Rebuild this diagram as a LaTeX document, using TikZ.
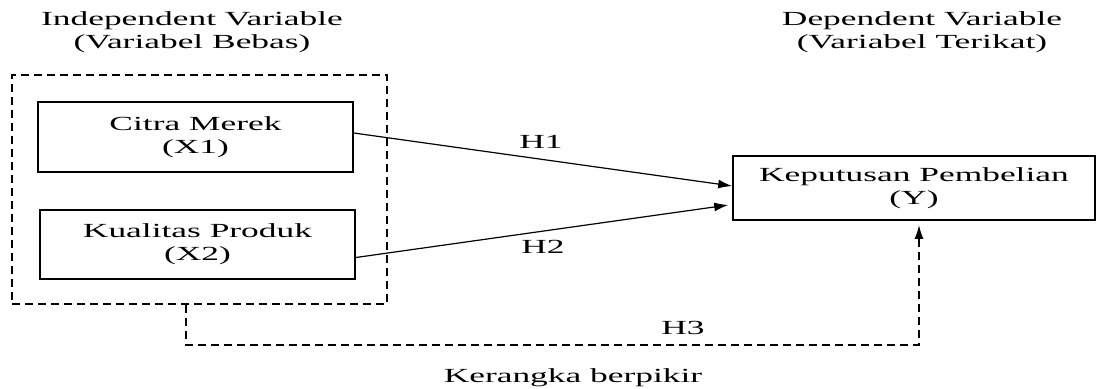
\documentclass[tikz,border=0pt]{standalone}
\usepackage{fontspec}
\setmainfont{Liberation Serif}[FakeStretch=1.77]
\usetikzlibrary{arrows.meta}
\tikzset{>={Latex[length=7pt,width=4.5pt]}}
\tikzset{
  var/.style={draw, line width=0.8pt, inner sep=0pt, align=center},
  grpbox/.style={draw, dashed, line width=0.9pt, dash pattern=on 4pt off 2.5pt, inner sep=0pt},
  hline/.style={->, line width=0.6pt},
  hdash/.style={->, line width=0.9pt, dash pattern=on 4pt off 2.5pt}
}

\begin{document}
\begin{tikzpicture}[x=0.5pt, y=-0.5pt, font=\fontsize{10}{11.4}\selectfont]
    \useasboundingbox (0,0) rectangle (1098,388);

    \node at (192, 32) (ind) [align=center] {Independent Variable\\(Variabel Bebas)};
    \node at (922, 32) (dep) [align=center] {Dependent Variable\\(Variabel Terikat)};

    \node at (199.5, 189.5) (grp) [grpbox, minimum width=187.5pt, minimum height=114.5pt] {};
    \node at (195.5, 137) (X1) [var, minimum width=157.5pt, minimum height=35pt] {Citra Merek\\(X1)};
    \node at (197.5, 244.5) (X2) [var, minimum width=157.5pt, minimum height=34.5pt] {Kualitas Produk\\(X2)};
    \node at (914, 188) (Y) [var, minimum width=181pt, minimum height=32pt] {Keputusan Pembelian\\(Y)};

    \coordinate (h3a) at (186, 345);
    \coordinate (h3b) at (919, 345);

    \draw[hline] ([yshift=2pt]X1.east) -- ([yshift=1pt]Y.west);
    \draw[hline] ([yshift=-6.5pt]X2.east) -- ([xshift=-2pt, yshift=-8.5pt]Y.west);
    \draw[hdash] (h3a |- grp.south) -- (h3a) -- (h3b) -- ([yshift=-2pt]h3b |- Y.south);

    \node at (541, 142) (h1) {H1};
    \node at (543, 247) (h2) {H2};
    \node at (683, 328) (h3) {H3};
    \node at (573, 378) (cap) {Kerangka berpikir};
\end{tikzpicture}
\end{document}
